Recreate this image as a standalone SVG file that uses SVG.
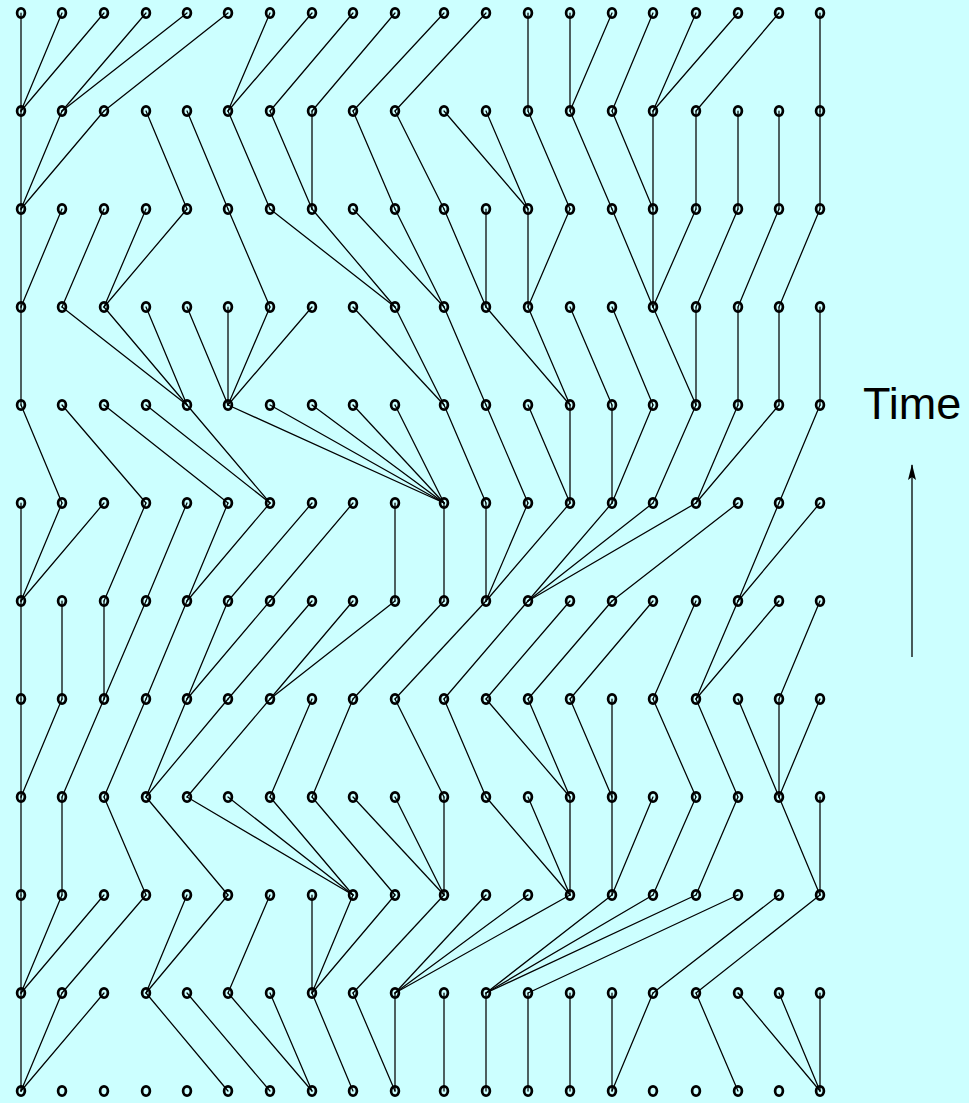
<svg xmlns="http://www.w3.org/2000/svg" xmlns:xlink="http://www.w3.org/1999/xlink" width="969" height="1103" viewBox="0 0 969 1103">
<style>
.bg{fill:#CCFFFF}
.e line{stroke:#000;stroke-width:1.25;stroke-linecap:round}
.o{fill:none;stroke:#000;stroke-width:2.7}
.lbl{font-family:"Liberation Sans",Arial,sans-serif;font-size:45px;fill:#000}
.ax{stroke:#000;stroke-width:1.3;fill:none}
</style>
<defs>
<ellipse id="o" class="o" cx="0" cy="0" rx="3.9" ry="4.6"/>
<marker id="ah" viewBox="0 0 16 10" refX="15" refY="5" markerWidth="16" markerHeight="10" markerUnits="userSpaceOnUse" orient="auto">
<path d="M0,1 L16,5 L0,9 L3,5 Z" fill="#000"/>
</marker>
</defs>
<rect class="bg" x="0" y="0" width="969" height="1103"/>
<g id="connectors" class="e">
<!-- gap 0 -->
<line x1="21" y1="13" x2="21" y2="111"/><line x1="62" y1="13" x2="21" y2="111"/><line x1="104" y1="13" x2="21" y2="111"/><line x1="146" y1="13" x2="62" y2="111"/><line x1="187" y1="13" x2="62" y2="111"/><line x1="228" y1="13" x2="104" y2="111"/><line x1="270" y1="13" x2="228" y2="111"/><line x1="312" y1="13" x2="228" y2="111"/><line x1="353" y1="13" x2="270" y2="111"/><line x1="395" y1="13" x2="312" y2="111"/><line x1="444" y1="13" x2="353" y2="111"/><line x1="486" y1="13" x2="395" y2="111"/><line x1="528" y1="13" x2="528" y2="111"/><line x1="570" y1="13" x2="570" y2="111"/><line x1="612" y1="13" x2="570" y2="111"/><line x1="653" y1="13" x2="612" y2="111"/><line x1="696" y1="13" x2="653" y2="111"/><line x1="738" y1="13" x2="653" y2="111"/><line x1="779" y1="13" x2="696" y2="111"/><line x1="820" y1="13" x2="820" y2="111"/>
<!-- gap 1 -->
<line x1="21" y1="111" x2="21" y2="209"/><line x1="62" y1="111" x2="21" y2="209"/><line x1="104" y1="111" x2="21" y2="209"/><line x1="146" y1="111" x2="187" y2="209"/><line x1="187" y1="111" x2="228" y2="209"/><line x1="228" y1="111" x2="270" y2="209"/><line x1="270" y1="111" x2="312" y2="209"/><line x1="312" y1="111" x2="312" y2="209"/><line x1="353" y1="111" x2="395" y2="209"/><line x1="395" y1="111" x2="444" y2="209"/><line x1="444" y1="111" x2="528" y2="209"/><line x1="486" y1="111" x2="528" y2="209"/><line x1="528" y1="111" x2="570" y2="209"/><line x1="570" y1="111" x2="612" y2="209"/><line x1="612" y1="111" x2="653" y2="209"/><line x1="653" y1="111" x2="653" y2="209"/><line x1="696" y1="111" x2="696" y2="209"/><line x1="738" y1="111" x2="738" y2="209"/><line x1="779" y1="111" x2="779" y2="209"/><line x1="820" y1="111" x2="820" y2="209"/>
<!-- gap 2 -->
<line x1="21" y1="209" x2="21" y2="307"/><line x1="62" y1="209" x2="21" y2="307"/><line x1="104" y1="209" x2="62" y2="307"/><line x1="146" y1="209" x2="104" y2="307"/><line x1="187" y1="209" x2="104" y2="307"/><line x1="228" y1="209" x2="270" y2="307"/><line x1="270" y1="209" x2="395" y2="307"/><line x1="312" y1="209" x2="395" y2="307"/><line x1="353" y1="209" x2="444" y2="307"/><line x1="395" y1="209" x2="444" y2="307"/><line x1="444" y1="209" x2="486" y2="307"/><line x1="486" y1="209" x2="486" y2="307"/><line x1="528" y1="209" x2="528" y2="307"/><line x1="570" y1="209" x2="528" y2="307"/><line x1="612" y1="209" x2="653" y2="307"/><line x1="653" y1="209" x2="653" y2="307"/><line x1="696" y1="209" x2="653" y2="307"/><line x1="738" y1="209" x2="696" y2="307"/><line x1="779" y1="209" x2="738" y2="307"/><line x1="820" y1="209" x2="779" y2="307"/>
<!-- gap 3 -->
<line x1="21" y1="307" x2="21" y2="405"/><line x1="62" y1="307" x2="187" y2="405"/><line x1="104" y1="307" x2="187" y2="405"/><line x1="146" y1="307" x2="187" y2="405"/><line x1="187" y1="307" x2="228" y2="405"/><line x1="228" y1="307" x2="228" y2="405"/><line x1="270" y1="307" x2="228" y2="405"/><line x1="312" y1="307" x2="228" y2="405"/><line x1="353" y1="307" x2="444" y2="405"/><line x1="395" y1="307" x2="444" y2="405"/><line x1="444" y1="307" x2="486" y2="405"/><line x1="486" y1="307" x2="570" y2="405"/><line x1="528" y1="307" x2="570" y2="405"/><line x1="570" y1="307" x2="612" y2="405"/><line x1="612" y1="307" x2="653" y2="405"/><line x1="653" y1="307" x2="696" y2="405"/><line x1="696" y1="307" x2="696" y2="405"/><line x1="738" y1="307" x2="738" y2="405"/><line x1="779" y1="307" x2="779" y2="405"/><line x1="820" y1="307" x2="820" y2="405"/>
<!-- gap 4 -->
<line x1="21" y1="405" x2="62" y2="503"/><line x1="62" y1="405" x2="146" y2="503"/><line x1="104" y1="405" x2="228" y2="503"/><line x1="146" y1="405" x2="270" y2="503"/><line x1="187" y1="405" x2="270" y2="503"/><line x1="228" y1="405" x2="444" y2="503"/><line x1="270" y1="405" x2="444" y2="503"/><line x1="312" y1="405" x2="444" y2="503"/><line x1="353" y1="405" x2="444" y2="503"/><line x1="395" y1="405" x2="444" y2="503"/><line x1="444" y1="405" x2="486" y2="503"/><line x1="486" y1="405" x2="528" y2="503"/><line x1="528" y1="405" x2="570" y2="503"/><line x1="570" y1="405" x2="570" y2="503"/><line x1="612" y1="405" x2="612" y2="503"/><line x1="653" y1="405" x2="612" y2="503"/><line x1="696" y1="405" x2="653" y2="503"/><line x1="738" y1="405" x2="696" y2="503"/><line x1="779" y1="405" x2="696" y2="503"/><line x1="820" y1="405" x2="779" y2="503"/>
<!-- gap 5 -->
<line x1="21" y1="503" x2="21" y2="601"/><line x1="62" y1="503" x2="21" y2="601"/><line x1="104" y1="503" x2="21" y2="601"/><line x1="146" y1="503" x2="104" y2="601"/><line x1="187" y1="503" x2="146" y2="601"/><line x1="228" y1="503" x2="187" y2="601"/><line x1="270" y1="503" x2="187" y2="601"/><line x1="312" y1="503" x2="228" y2="601"/><line x1="353" y1="503" x2="270" y2="601"/><line x1="395" y1="503" x2="395" y2="601"/><line x1="444" y1="503" x2="444" y2="601"/><line x1="486" y1="503" x2="486" y2="601"/><line x1="528" y1="503" x2="486" y2="601"/><line x1="570" y1="503" x2="486" y2="601"/><line x1="612" y1="503" x2="528" y2="601"/><line x1="653" y1="503" x2="528" y2="601"/><line x1="696" y1="503" x2="528" y2="601"/><line x1="738" y1="503" x2="612" y2="601"/><line x1="779" y1="503" x2="738" y2="601"/><line x1="820" y1="503" x2="738" y2="601"/>
<!-- gap 6 -->
<line x1="21" y1="601" x2="21" y2="699"/><line x1="62" y1="601" x2="62" y2="699"/><line x1="104" y1="601" x2="104" y2="699"/><line x1="146" y1="601" x2="104" y2="699"/><line x1="187" y1="601" x2="146" y2="699"/><line x1="228" y1="601" x2="187" y2="699"/><line x1="270" y1="601" x2="187" y2="699"/><line x1="312" y1="601" x2="228" y2="699"/><line x1="353" y1="601" x2="270" y2="699"/><line x1="395" y1="601" x2="270" y2="699"/><line x1="444" y1="601" x2="353" y2="699"/><line x1="486" y1="601" x2="395" y2="699"/><line x1="528" y1="601" x2="444" y2="699"/><line x1="570" y1="601" x2="486" y2="699"/><line x1="612" y1="601" x2="528" y2="699"/><line x1="653" y1="601" x2="570" y2="699"/><line x1="696" y1="601" x2="653" y2="699"/><line x1="738" y1="601" x2="696" y2="699"/><line x1="779" y1="601" x2="696" y2="699"/><line x1="820" y1="601" x2="779" y2="699"/>
<!-- gap 7 -->
<line x1="21" y1="699" x2="21" y2="797"/><line x1="62" y1="699" x2="21" y2="797"/><line x1="104" y1="699" x2="62" y2="797"/><line x1="146" y1="699" x2="104" y2="797"/><line x1="187" y1="699" x2="146" y2="797"/><line x1="228" y1="699" x2="146" y2="797"/><line x1="270" y1="699" x2="187" y2="797"/><line x1="312" y1="699" x2="270" y2="797"/><line x1="353" y1="699" x2="312" y2="797"/><line x1="395" y1="699" x2="444" y2="797"/><line x1="444" y1="699" x2="486" y2="797"/><line x1="486" y1="699" x2="570" y2="797"/><line x1="528" y1="699" x2="570" y2="797"/><line x1="570" y1="699" x2="612" y2="797"/><line x1="612" y1="699" x2="612" y2="797"/><line x1="653" y1="699" x2="696" y2="797"/><line x1="696" y1="699" x2="738" y2="797"/><line x1="738" y1="699" x2="779" y2="797"/><line x1="779" y1="699" x2="779" y2="797"/><line x1="820" y1="699" x2="779" y2="797"/>
<!-- gap 8 -->
<line x1="21" y1="797" x2="21" y2="895"/><line x1="62" y1="797" x2="62" y2="895"/><line x1="104" y1="797" x2="146" y2="895"/><line x1="146" y1="797" x2="228" y2="895"/><line x1="187" y1="797" x2="353" y2="895"/><line x1="228" y1="797" x2="353" y2="895"/><line x1="270" y1="797" x2="353" y2="895"/><line x1="312" y1="797" x2="395" y2="895"/><line x1="353" y1="797" x2="444" y2="895"/><line x1="395" y1="797" x2="444" y2="895"/><line x1="444" y1="797" x2="444" y2="895"/><line x1="486" y1="797" x2="570" y2="895"/><line x1="528" y1="797" x2="570" y2="895"/><line x1="570" y1="797" x2="570" y2="895"/><line x1="612" y1="797" x2="612" y2="895"/><line x1="653" y1="797" x2="612" y2="895"/><line x1="696" y1="797" x2="653" y2="895"/><line x1="738" y1="797" x2="696" y2="895"/><line x1="779" y1="797" x2="820" y2="895"/><line x1="820" y1="797" x2="820" y2="895"/>
<!-- gap 9 -->
<line x1="21" y1="895" x2="21" y2="993"/><line x1="62" y1="895" x2="21" y2="993"/><line x1="104" y1="895" x2="21" y2="993"/><line x1="146" y1="895" x2="62" y2="993"/><line x1="187" y1="895" x2="146" y2="993"/><line x1="228" y1="895" x2="146" y2="993"/><line x1="270" y1="895" x2="228" y2="993"/><line x1="312" y1="895" x2="312" y2="993"/><line x1="353" y1="895" x2="312" y2="993"/><line x1="395" y1="895" x2="312" y2="993"/><line x1="444" y1="895" x2="353" y2="993"/><line x1="486" y1="895" x2="395" y2="993"/><line x1="528" y1="895" x2="395" y2="993"/><line x1="570" y1="895" x2="395" y2="993"/><line x1="612" y1="895" x2="486" y2="993"/><line x1="653" y1="895" x2="486" y2="993"/><line x1="696" y1="895" x2="486" y2="993"/><line x1="738" y1="895" x2="528" y2="993"/><line x1="779" y1="895" x2="653" y2="993"/><line x1="820" y1="895" x2="696" y2="993"/>
<!-- gap 10 -->
<line x1="21" y1="993" x2="21" y2="1091"/><line x1="62" y1="993" x2="21" y2="1091"/><line x1="104" y1="993" x2="21" y2="1091"/><line x1="146" y1="993" x2="228" y2="1091"/><line x1="187" y1="993" x2="270" y2="1091"/><line x1="228" y1="993" x2="312" y2="1091"/><line x1="270" y1="993" x2="312" y2="1091"/><line x1="312" y1="993" x2="353" y2="1091"/><line x1="353" y1="993" x2="395" y2="1091"/><line x1="395" y1="993" x2="395" y2="1091"/><line x1="444" y1="993" x2="444" y2="1091"/><line x1="486" y1="993" x2="486" y2="1091"/><line x1="528" y1="993" x2="528" y2="1091"/><line x1="570" y1="993" x2="570" y2="1091"/><line x1="612" y1="993" x2="612" y2="1091"/><line x1="653" y1="993" x2="612" y2="1091"/><line x1="696" y1="993" x2="738" y2="1091"/><line x1="738" y1="993" x2="820" y2="1091"/><line x1="779" y1="993" x2="820" y2="1091"/><line x1="820" y1="993" x2="820" y2="1091"/>
</g>
<g id="nodes">
<g id="n0-0"><use href="#o" x="21" y="13"/></g><g id="n0-1"><use href="#o" x="62" y="13"/></g><g id="n0-2"><use href="#o" x="104" y="13"/></g><g id="n0-3"><use href="#o" x="146" y="13"/></g><g id="n0-4"><use href="#o" x="187" y="13"/></g><g id="n0-5"><use href="#o" x="228" y="13"/></g><g id="n0-6"><use href="#o" x="270" y="13"/></g><g id="n0-7"><use href="#o" x="312" y="13"/></g><g id="n0-8"><use href="#o" x="353" y="13"/></g><g id="n0-9"><use href="#o" x="395" y="13"/></g><g id="n0-10"><use href="#o" x="444" y="13"/></g><g id="n0-11"><use href="#o" x="486" y="13"/></g><g id="n0-12"><use href="#o" x="528" y="13"/></g><g id="n0-13"><use href="#o" x="570" y="13"/></g><g id="n0-14"><use href="#o" x="612" y="13"/></g><g id="n0-15"><use href="#o" x="653" y="13"/></g><g id="n0-16"><use href="#o" x="696" y="13"/></g><g id="n0-17"><use href="#o" x="738" y="13"/></g><g id="n0-18"><use href="#o" x="779" y="13"/></g><g id="n0-19"><use href="#o" x="820" y="13"/></g>
<g id="n1-0"><use href="#o" x="21" y="111"/></g><g id="n1-1"><use href="#o" x="62" y="111"/></g><g id="n1-2"><use href="#o" x="104" y="111"/></g><g id="n1-3"><use href="#o" x="146" y="111"/></g><g id="n1-4"><use href="#o" x="187" y="111"/></g><g id="n1-5"><use href="#o" x="228" y="111"/></g><g id="n1-6"><use href="#o" x="270" y="111"/></g><g id="n1-7"><use href="#o" x="312" y="111"/></g><g id="n1-8"><use href="#o" x="353" y="111"/></g><g id="n1-9"><use href="#o" x="395" y="111"/></g><g id="n1-10"><use href="#o" x="444" y="111"/></g><g id="n1-11"><use href="#o" x="486" y="111"/></g><g id="n1-12"><use href="#o" x="528" y="111"/></g><g id="n1-13"><use href="#o" x="570" y="111"/></g><g id="n1-14"><use href="#o" x="612" y="111"/></g><g id="n1-15"><use href="#o" x="653" y="111"/></g><g id="n1-16"><use href="#o" x="696" y="111"/></g><g id="n1-17"><use href="#o" x="738" y="111"/></g><g id="n1-18"><use href="#o" x="779" y="111"/></g><g id="n1-19"><use href="#o" x="820" y="111"/></g>
<g id="n2-0"><use href="#o" x="21" y="209"/></g><g id="n2-1"><use href="#o" x="62" y="209"/></g><g id="n2-2"><use href="#o" x="104" y="209"/></g><g id="n2-3"><use href="#o" x="146" y="209"/></g><g id="n2-4"><use href="#o" x="187" y="209"/></g><g id="n2-5"><use href="#o" x="228" y="209"/></g><g id="n2-6"><use href="#o" x="270" y="209"/></g><g id="n2-7"><use href="#o" x="312" y="209"/></g><g id="n2-8"><use href="#o" x="353" y="209"/></g><g id="n2-9"><use href="#o" x="395" y="209"/></g><g id="n2-10"><use href="#o" x="444" y="209"/></g><g id="n2-11"><use href="#o" x="486" y="209"/></g><g id="n2-12"><use href="#o" x="528" y="209"/></g><g id="n2-13"><use href="#o" x="570" y="209"/></g><g id="n2-14"><use href="#o" x="612" y="209"/></g><g id="n2-15"><use href="#o" x="653" y="209"/></g><g id="n2-16"><use href="#o" x="696" y="209"/></g><g id="n2-17"><use href="#o" x="738" y="209"/></g><g id="n2-18"><use href="#o" x="779" y="209"/></g><g id="n2-19"><use href="#o" x="820" y="209"/></g>
<g id="n3-0"><use href="#o" x="21" y="307"/></g><g id="n3-1"><use href="#o" x="62" y="307"/></g><g id="n3-2"><use href="#o" x="104" y="307"/></g><g id="n3-3"><use href="#o" x="146" y="307"/></g><g id="n3-4"><use href="#o" x="187" y="307"/></g><g id="n3-5"><use href="#o" x="228" y="307"/></g><g id="n3-6"><use href="#o" x="270" y="307"/></g><g id="n3-7"><use href="#o" x="312" y="307"/></g><g id="n3-8"><use href="#o" x="353" y="307"/></g><g id="n3-9"><use href="#o" x="395" y="307"/></g><g id="n3-10"><use href="#o" x="444" y="307"/></g><g id="n3-11"><use href="#o" x="486" y="307"/></g><g id="n3-12"><use href="#o" x="528" y="307"/></g><g id="n3-13"><use href="#o" x="570" y="307"/></g><g id="n3-14"><use href="#o" x="612" y="307"/></g><g id="n3-15"><use href="#o" x="653" y="307"/></g><g id="n3-16"><use href="#o" x="696" y="307"/></g><g id="n3-17"><use href="#o" x="738" y="307"/></g><g id="n3-18"><use href="#o" x="779" y="307"/></g><g id="n3-19"><use href="#o" x="820" y="307"/></g>
<g id="n4-0"><use href="#o" x="21" y="405"/></g><g id="n4-1"><use href="#o" x="62" y="405"/></g><g id="n4-2"><use href="#o" x="104" y="405"/></g><g id="n4-3"><use href="#o" x="146" y="405"/></g><g id="n4-4"><use href="#o" x="187" y="405"/></g><g id="n4-5"><use href="#o" x="228" y="405"/></g><g id="n4-6"><use href="#o" x="270" y="405"/></g><g id="n4-7"><use href="#o" x="312" y="405"/></g><g id="n4-8"><use href="#o" x="353" y="405"/></g><g id="n4-9"><use href="#o" x="395" y="405"/></g><g id="n4-10"><use href="#o" x="444" y="405"/></g><g id="n4-11"><use href="#o" x="486" y="405"/></g><g id="n4-12"><use href="#o" x="528" y="405"/></g><g id="n4-13"><use href="#o" x="570" y="405"/></g><g id="n4-14"><use href="#o" x="612" y="405"/></g><g id="n4-15"><use href="#o" x="653" y="405"/></g><g id="n4-16"><use href="#o" x="696" y="405"/></g><g id="n4-17"><use href="#o" x="738" y="405"/></g><g id="n4-18"><use href="#o" x="779" y="405"/></g><g id="n4-19"><use href="#o" x="820" y="405"/></g>
<g id="n5-0"><use href="#o" x="21" y="503"/></g><g id="n5-1"><use href="#o" x="62" y="503"/></g><g id="n5-2"><use href="#o" x="104" y="503"/></g><g id="n5-3"><use href="#o" x="146" y="503"/></g><g id="n5-4"><use href="#o" x="187" y="503"/></g><g id="n5-5"><use href="#o" x="228" y="503"/></g><g id="n5-6"><use href="#o" x="270" y="503"/></g><g id="n5-7"><use href="#o" x="312" y="503"/></g><g id="n5-8"><use href="#o" x="353" y="503"/></g><g id="n5-9"><use href="#o" x="395" y="503"/></g><g id="n5-10"><use href="#o" x="444" y="503"/></g><g id="n5-11"><use href="#o" x="486" y="503"/></g><g id="n5-12"><use href="#o" x="528" y="503"/></g><g id="n5-13"><use href="#o" x="570" y="503"/></g><g id="n5-14"><use href="#o" x="612" y="503"/></g><g id="n5-15"><use href="#o" x="653" y="503"/></g><g id="n5-16"><use href="#o" x="696" y="503"/></g><g id="n5-17"><use href="#o" x="738" y="503"/></g><g id="n5-18"><use href="#o" x="779" y="503"/></g><g id="n5-19"><use href="#o" x="820" y="503"/></g>
<g id="n6-0"><use href="#o" x="21" y="601"/></g><g id="n6-1"><use href="#o" x="62" y="601"/></g><g id="n6-2"><use href="#o" x="104" y="601"/></g><g id="n6-3"><use href="#o" x="146" y="601"/></g><g id="n6-4"><use href="#o" x="187" y="601"/></g><g id="n6-5"><use href="#o" x="228" y="601"/></g><g id="n6-6"><use href="#o" x="270" y="601"/></g><g id="n6-7"><use href="#o" x="312" y="601"/></g><g id="n6-8"><use href="#o" x="353" y="601"/></g><g id="n6-9"><use href="#o" x="395" y="601"/></g><g id="n6-10"><use href="#o" x="444" y="601"/></g><g id="n6-11"><use href="#o" x="486" y="601"/></g><g id="n6-12"><use href="#o" x="528" y="601"/></g><g id="n6-13"><use href="#o" x="570" y="601"/></g><g id="n6-14"><use href="#o" x="612" y="601"/></g><g id="n6-15"><use href="#o" x="653" y="601"/></g><g id="n6-16"><use href="#o" x="696" y="601"/></g><g id="n6-17"><use href="#o" x="738" y="601"/></g><g id="n6-18"><use href="#o" x="779" y="601"/></g><g id="n6-19"><use href="#o" x="820" y="601"/></g>
<g id="n7-0"><use href="#o" x="21" y="699"/></g><g id="n7-1"><use href="#o" x="62" y="699"/></g><g id="n7-2"><use href="#o" x="104" y="699"/></g><g id="n7-3"><use href="#o" x="146" y="699"/></g><g id="n7-4"><use href="#o" x="187" y="699"/></g><g id="n7-5"><use href="#o" x="228" y="699"/></g><g id="n7-6"><use href="#o" x="270" y="699"/></g><g id="n7-7"><use href="#o" x="312" y="699"/></g><g id="n7-8"><use href="#o" x="353" y="699"/></g><g id="n7-9"><use href="#o" x="395" y="699"/></g><g id="n7-10"><use href="#o" x="444" y="699"/></g><g id="n7-11"><use href="#o" x="486" y="699"/></g><g id="n7-12"><use href="#o" x="528" y="699"/></g><g id="n7-13"><use href="#o" x="570" y="699"/></g><g id="n7-14"><use href="#o" x="612" y="699"/></g><g id="n7-15"><use href="#o" x="653" y="699"/></g><g id="n7-16"><use href="#o" x="696" y="699"/></g><g id="n7-17"><use href="#o" x="738" y="699"/></g><g id="n7-18"><use href="#o" x="779" y="699"/></g><g id="n7-19"><use href="#o" x="820" y="699"/></g>
<g id="n8-0"><use href="#o" x="21" y="797"/></g><g id="n8-1"><use href="#o" x="62" y="797"/></g><g id="n8-2"><use href="#o" x="104" y="797"/></g><g id="n8-3"><use href="#o" x="146" y="797"/></g><g id="n8-4"><use href="#o" x="187" y="797"/></g><g id="n8-5"><use href="#o" x="228" y="797"/></g><g id="n8-6"><use href="#o" x="270" y="797"/></g><g id="n8-7"><use href="#o" x="312" y="797"/></g><g id="n8-8"><use href="#o" x="353" y="797"/></g><g id="n8-9"><use href="#o" x="395" y="797"/></g><g id="n8-10"><use href="#o" x="444" y="797"/></g><g id="n8-11"><use href="#o" x="486" y="797"/></g><g id="n8-12"><use href="#o" x="528" y="797"/></g><g id="n8-13"><use href="#o" x="570" y="797"/></g><g id="n8-14"><use href="#o" x="612" y="797"/></g><g id="n8-15"><use href="#o" x="653" y="797"/></g><g id="n8-16"><use href="#o" x="696" y="797"/></g><g id="n8-17"><use href="#o" x="738" y="797"/></g><g id="n8-18"><use href="#o" x="779" y="797"/></g><g id="n8-19"><use href="#o" x="820" y="797"/></g>
<g id="n9-0"><use href="#o" x="21" y="895"/></g><g id="n9-1"><use href="#o" x="62" y="895"/></g><g id="n9-2"><use href="#o" x="104" y="895"/></g><g id="n9-3"><use href="#o" x="146" y="895"/></g><g id="n9-4"><use href="#o" x="187" y="895"/></g><g id="n9-5"><use href="#o" x="228" y="895"/></g><g id="n9-6"><use href="#o" x="270" y="895"/></g><g id="n9-7"><use href="#o" x="312" y="895"/></g><g id="n9-8"><use href="#o" x="353" y="895"/></g><g id="n9-9"><use href="#o" x="395" y="895"/></g><g id="n9-10"><use href="#o" x="444" y="895"/></g><g id="n9-11"><use href="#o" x="486" y="895"/></g><g id="n9-12"><use href="#o" x="528" y="895"/></g><g id="n9-13"><use href="#o" x="570" y="895"/></g><g id="n9-14"><use href="#o" x="612" y="895"/></g><g id="n9-15"><use href="#o" x="653" y="895"/></g><g id="n9-16"><use href="#o" x="696" y="895"/></g><g id="n9-17"><use href="#o" x="738" y="895"/></g><g id="n9-18"><use href="#o" x="779" y="895"/></g><g id="n9-19"><use href="#o" x="820" y="895"/></g>
<g id="n10-0"><use href="#o" x="21" y="993"/></g><g id="n10-1"><use href="#o" x="62" y="993"/></g><g id="n10-2"><use href="#o" x="104" y="993"/></g><g id="n10-3"><use href="#o" x="146" y="993"/></g><g id="n10-4"><use href="#o" x="187" y="993"/></g><g id="n10-5"><use href="#o" x="228" y="993"/></g><g id="n10-6"><use href="#o" x="270" y="993"/></g><g id="n10-7"><use href="#o" x="312" y="993"/></g><g id="n10-8"><use href="#o" x="353" y="993"/></g><g id="n10-9"><use href="#o" x="395" y="993"/></g><g id="n10-10"><use href="#o" x="444" y="993"/></g><g id="n10-11"><use href="#o" x="486" y="993"/></g><g id="n10-12"><use href="#o" x="528" y="993"/></g><g id="n10-13"><use href="#o" x="570" y="993"/></g><g id="n10-14"><use href="#o" x="612" y="993"/></g><g id="n10-15"><use href="#o" x="653" y="993"/></g><g id="n10-16"><use href="#o" x="696" y="993"/></g><g id="n10-17"><use href="#o" x="738" y="993"/></g><g id="n10-18"><use href="#o" x="779" y="993"/></g><g id="n10-19"><use href="#o" x="820" y="993"/></g>
<g id="n11-0"><use href="#o" x="21" y="1091"/></g><g id="n11-1"><use href="#o" x="62" y="1091"/></g><g id="n11-2"><use href="#o" x="104" y="1091"/></g><g id="n11-3"><use href="#o" x="146" y="1091"/></g><g id="n11-4"><use href="#o" x="187" y="1091"/></g><g id="n11-5"><use href="#o" x="228" y="1091"/></g><g id="n11-6"><use href="#o" x="270" y="1091"/></g><g id="n11-7"><use href="#o" x="312" y="1091"/></g><g id="n11-8"><use href="#o" x="353" y="1091"/></g><g id="n11-9"><use href="#o" x="395" y="1091"/></g><g id="n11-10"><use href="#o" x="444" y="1091"/></g><g id="n11-11"><use href="#o" x="486" y="1091"/></g><g id="n11-12"><use href="#o" x="528" y="1091"/></g><g id="n11-13"><use href="#o" x="570" y="1091"/></g><g id="n11-14"><use href="#o" x="612" y="1091"/></g><g id="n11-15"><use href="#o" x="653" y="1091"/></g><g id="n11-16"><use href="#o" x="696" y="1091"/></g><g id="n11-17"><use href="#o" x="738" y="1091"/></g><g id="n11-18"><use href="#o" x="779" y="1091"/></g><g id="n11-19"><use href="#o" x="820" y="1091"/></g>
</g>
<g id="time-axis">
<text class="lbl" x="863" y="419">Time</text>
<line class="ax" x1="912" y1="657" x2="912" y2="465" marker-end="url(#ah)"/>
</g>
</svg>
